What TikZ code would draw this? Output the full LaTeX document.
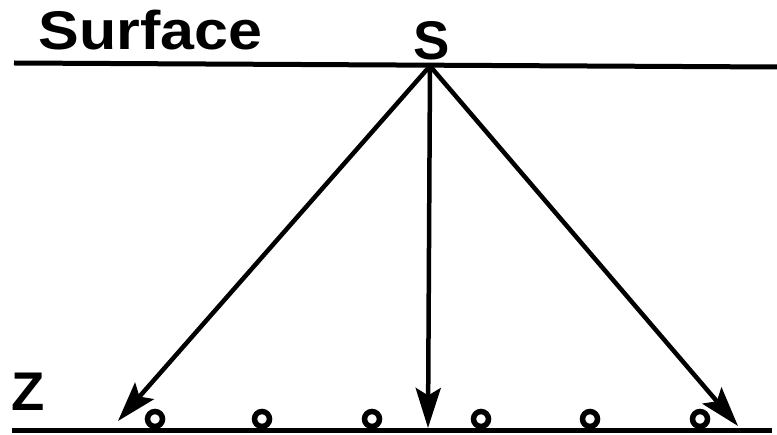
\documentclass[tikz,border=0pt]{standalone}
\usepackage{fontspec}
\setmainfont{Liberation Sans}
\usetikzlibrary{arrows.meta}

\begin{document}
\begin{tikzpicture}[x=0.02cm,y=-0.02cm,>={Stealth[length=0.8cm,width=0.5cm,inset=0.15cm]},
  lbl/.style={font=\bfseries\fontsize{31}{31}\selectfont,inner sep=0pt},
  rcv/.style={circle,draw,line width=0.11cm,minimum size=0.3cm,inner sep=0pt},
  ray/.style={->,line width=0.09cm}]
  \useasboundingbox (0,0) rectangle (777,435);
  % surface and depth level
  \draw[line width=0.1cm] (14,63) coordinate (sl) -- (777,67) coordinate (sr);
  \draw[line width=0.1cm] (12,430) coordinate (zl) -- (772,430) coordinate (zr);
  \node[lbl,anchor=base west] (surf) at (38,50) {\scalebox{1.12}[1]{Surface}};
  \node[lbl,anchor=base] (src) at (432,60) {S};
  \node[lbl,anchor=base west] (z) at (11,410) {Z};
  % receivers at depth
  \foreach \x [count=\i] in {155,262,372,481,590,700} \node[rcv] (r\i) at (\x,419) {};
  % rays from the source
  \coordinate (s) at (430,66);
  \coordinate (t1) at (118,421);
  \coordinate (t2) at (428,428);
  \coordinate (t3) at (738,426);
  \foreach \t in {t1,t2,t3} \draw[ray] (s) -- (\t);
\end{tikzpicture}
\end{document}
